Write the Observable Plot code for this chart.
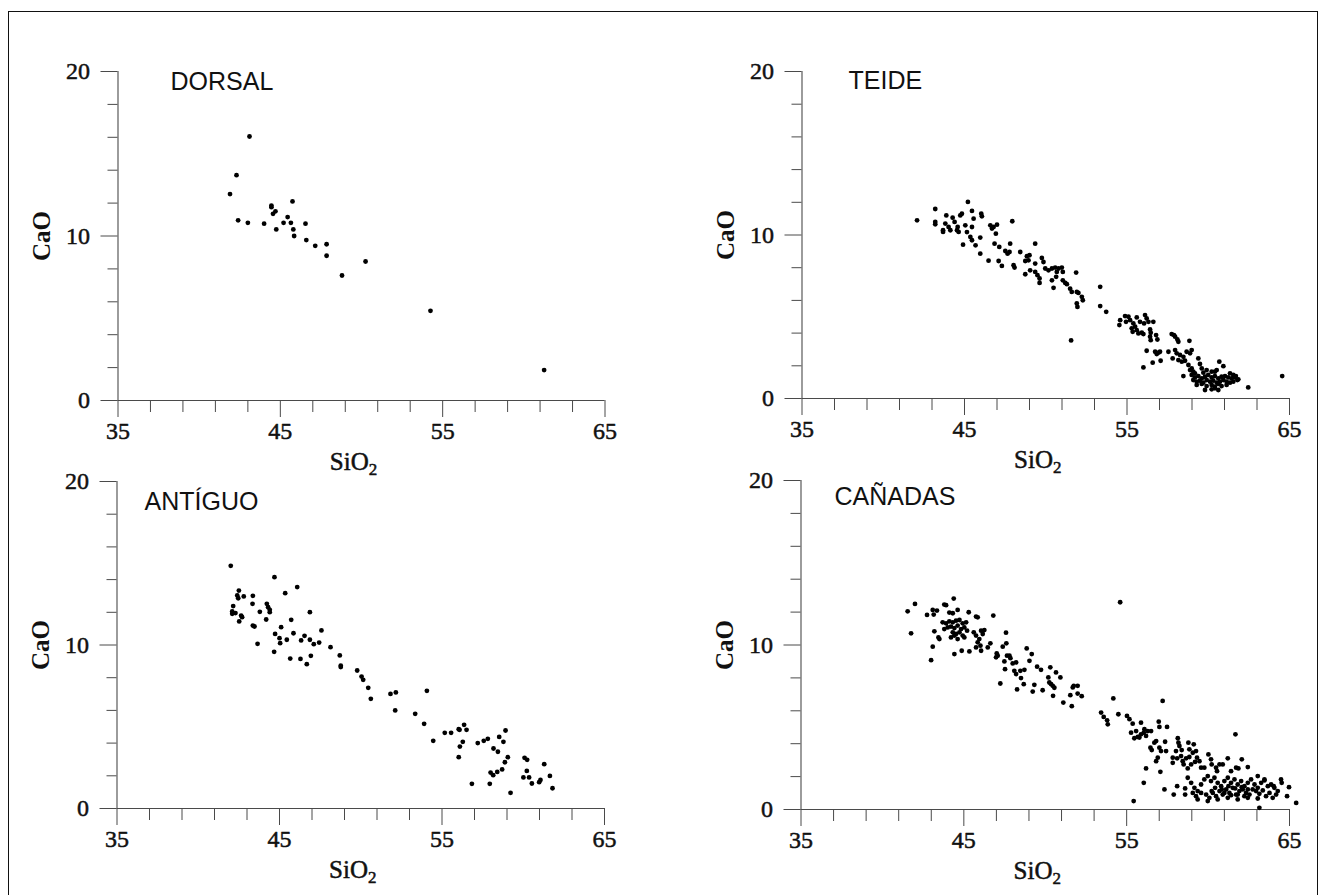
<!DOCTYPE html>
<html><head><meta charset="utf-8">
<script src="https://cdn.jsdelivr.net/npm/d3@7"></script>
<script src="https://cdn.jsdelivr.net/npm/@observablehq/plot@0.6"></script>
<style>
html,body{margin:0;padding:0;background:#fff;}
#page{position:relative;width:1319px;height:895px;overflow:hidden;background:#fff;}
#border{position:absolute;left:8px;top:11px;width:1310px;height:900px;border:1.5px solid #111;box-sizing:border-box;}
.panel{position:absolute;}
</style></head><body><div id="page"><div id="border"></div></div>
<script>
// Axis definitions
const xDomain = [35, 65];
const yDomain = [0, 20];
const xMajor = [35, 45, 55, 65];
const xMinor = [37, 39, 41, 43, 47, 49, 51, 53, 57, 59, 61, 63];
const yMajor = [0, 10, 20];
const yMinor = [2, 4, 6, 8, 12, 14, 16, 18];
const titles = ["DORSAL", "TEIDE", "ANTÍGUO", "CAÑADAS"];
const xLabel = "SiO2";
const yLabel = "CaO";

// [SiO2, CaO]
const dorsal = [[43.1,16.05],[42.3,13.7],[41.9,12.55],[42.4,10.95],[43.0,10.8],[44.0,10.75],[44.45,11.85],[44.45,11.75],[44.7,11.5],[44.55,11.35],[44.75,10.4],[45.2,10.8],[45.45,11.15],[45.65,10.8],[45.75,12.1],[45.8,10.4],[45.85,10.0],[46.55,10.75],[46.6,9.75],[47.15,9.4],[47.85,9.5],[47.85,8.8],[48.8,7.6],[50.25,8.45],[54.25,5.45],[61.25,1.85]];

const teide = [[42.08,10.9],[43.2,11.59],[43.2,10.8],[43.2,10.65],[43.88,11.2],[44.27,11.06],[43.82,10.7],[43.68,10.29],[43.68,10.19],[44.02,10.49],[44.13,10.29],[44.39,10.8],[44.54,10.29],[44.64,10.19],[44.58,10.49],[44.74,11.2],[44.84,11.3],[45.21,12.02],[45.46,11.47],[45.05,10.59],[45.56,11.0],[45.46,10.49],[46.03,11.3],[46.07,11.14],[45.15,10.18],[45.36,9.88],[45.46,9.68],[44.91,9.41],[45.97,9.84],[45.68,9.37],[45.97,8.86],[46.59,10.59],[46.69,10.39],[47.0,10.63],[46.79,10.49],[46.93,10.08],[46.85,9.47],[47.94,10.84],[47.14,9.27],[47.81,9.47],[47.51,9.02],[47.65,8.86],[47.77,8.96],[46.48,8.43],[47.1,8.41],[47.3,8.11],[48.02,8.15],[48.08,8.01],[48.43,8.96],[48.74,8.41],[48.84,8.7],[49.0,8.76],[48.94,8.45],[49.35,9.47],[49.04,7.84],[49.35,8.25],[49.76,8.6],[49.86,8.35],[48.74,7.6],[49.35,7.74],[49.49,7.54],[49.62,7.34],[49.62,7.07],[49.97,7.95],[50.17,7.84],[50.38,7.95],[50.58,8.01],[50.79,7.95],[50.99,8.01],[50.68,7.74],[51.05,7.74],[50.38,7.23],[50.64,7.44],[50.48,6.77],[51.05,7.23],[51.2,7.07],[51.3,6.99],[51.5,6.72],[51.6,6.52],[51.91,6.52],[52.01,6.46],[51.87,7.7],[52.22,6.22],[52.28,6.01],[51.91,5.81],[51.95,5.6],[53.35,6.83],[53.35,5.65],[53.72,5.3],[51.56,3.55],
[54.58,4.79],[54.53,4.49],[54.88,5.04],[55.09,5.0],[55.19,4.79],[54.94,4.69],[55.39,4.59],[55.5,4.39],[55.29,4.29],[55.6,4.18],[55.35,4.08],[55.7,3.98],[55.91,4.02],[56.01,3.94],[55.6,4.96],[55.8,4.69],[56.11,5.1],[56.21,4.9],[56.32,4.69],[56.05,4.59],[56.62,4.69],[56.42,4.22],[56.46,4.02],[56.42,3.78],[56.46,3.57],[56.79,3.88],[56.87,3.61],[56.21,2.92],[56.01,1.9],[56.58,2.19],[56.73,2.86],[56.93,2.8],[57.03,2.86],[56.83,2.72],[57.07,2.31],[57.55,2.86],[57.75,3.94],[57.96,3.78],[58.1,3.61],[58.16,3.47],[57.89,3.88],[57.81,2.45],[57.96,2.96],[58.06,2.76],[58.26,2.66],[58.47,2.55],[58.67,2.86],[58.88,2.76],[58.98,2.96],[58.16,2.35],[58.37,2.25],[58.57,2.31],[58.84,3.53],[58.78,2.05],[58.98,1.84],[59.08,1.64],[59.18,1.54],[59.39,2.45],[59.49,2.11],[59.6,1.84],[58.47,1.37],[58.88,1.74],
[58.98,1.44],[59.18,1.29],[59.39,1.37],[59.6,1.23],[59.8,1.33],[60.0,1.44],[60.21,1.29],[60.41,1.37],[60.62,1.23],[60.82,1.33],[61.03,1.37],[61.23,1.29],[61.44,1.23],[61.64,1.29],[61.85,1.17],[59.08,1.13],[59.29,1.03],[59.49,1.09],[59.7,0.97],[59.9,1.13],[60.11,1.03],[60.31,1.09],[60.52,0.97],[60.72,1.03],[60.93,1.13],[61.13,1.03],[61.34,0.97],[61.54,1.03],[59.29,0.83],[59.6,0.89],[59.9,0.76],[60.21,0.83],[60.41,0.72],[60.62,0.89],[60.82,0.76],[61.13,0.83],[59.8,0.52],[60.21,0.56],[60.41,0.62],[60.62,0.52],[60.68,2.25],[60.93,1.98],[60.41,1.64],[60.52,1.74],[60.21,1.64],[59.9,1.74],[59.7,1.58],[61.34,1.54],[61.54,1.44],[61.7,1.37],[61.79,1.13],[62.46,0.68],[64.55,1.37]];

const antiguo = [[42.0,14.84],[44.69,14.15],[46.09,13.54],[45.35,13.17],[42.5,13.33],[42.4,13.03],[42.46,12.86],[42.8,12.97],[43.36,13.01],[43.34,12.52],[44.22,12.52],[44.3,12.31],[44.4,12.15],[44.4,12.01],[43.79,12.03],[42.15,12.38],[42.09,12.05],[42.09,11.91],[42.29,11.95],[42.64,11.8],[42.7,11.7],[42.52,11.44],[44.18,11.56],[43.36,11.19],[43.46,11.13],[43.65,10.07],[45.72,11.54],[46.87,12.01],[45.1,11.09],[44.73,10.68],[45.0,10.42],[45.04,10.11],[44.67,9.58],[45.45,10.32],[45.86,10.72],[46.33,10.28],[46.54,10.56],[46.87,10.32],[47.11,10.05],[47.44,10.15],[47.58,10.89],[45.66,9.17],[46.29,9.15],[46.93,9.34],[46.68,8.83],[48.14,9.87],[48.71,9.36],[48.77,8.73],[48.77,8.65],[49.78,8.44],[50.05,8.07],[50.15,7.87],[50.46,7.38],[50.62,6.71],[51.83,7.01],[52.16,7.1],[52.12,6.0],[54.07,7.2],[53.35,5.79],[53.9,5.18],[54.46,4.14],[55.17,4.63],[55.56,4.63],[56.03,4.85],[56.08,4.81],[56.36,5.12],[56.51,4.81],[56.28,4.08],[56.1,3.79],[56.03,3.14],[57.2,4.0],[57.57,4.14],[57.82,4.26],[58.17,3.67],[58.44,3.47],[58.52,4.38],[58.78,4.08],[58.91,4.77],[59.05,3.14],[58.87,2.83],[58.7,2.39],[58.4,2.24],[57.99,2.2],[58.15,2.04],[57.94,1.51],[56.84,1.51],[59.22,0.96],[60.08,3.1],[60.24,2.98],[60.22,2.3],[60.01,1.9],[60.36,1.9],[60.53,1.53],[60.98,1.61],[61.06,1.75],[61.29,2.71],[61.64,1.99],[61.8,1.24]];

const canadas = [[41.55,12.05],[42.0,12.5],[41.76,10.71],[42.74,11.83],[43.09,12.13],[43.15,11.85],[43.35,12.09],[43.8,12.46],[43.91,12.42],[44.38,12.82],[44.11,11.97],[44.32,11.93],[44.62,12.13],[45.3,11.99],[45.75,11.73],[45.85,11.68],[46.81,11.79],
[43.7,11.38],[43.91,11.32],[44.11,11.44],[44.32,11.38],[44.52,11.48],[44.73,11.52],[44.93,11.32],[45.14,11.38],[43.8,10.97],[44.01,11.07],[44.21,11.12],[44.42,11.03],[44.62,11.18],[44.83,10.97],[45.03,11.07],[45.2,10.87],[44.32,10.77],[44.52,10.67],[44.73,10.77],[44.93,10.57],[44.21,10.46],[44.42,10.57],[44.62,10.36],[45.03,10.46],[43.19,10.83],[43.5,10.36],[43.44,10.46],[43.09,9.9],[42.99,9.08],[44.42,9.45],[44.87,9.65],[45.34,9.61],[45.61,10.77],[45.75,10.57],[45.95,10.36],[46.06,10.87],[46.16,10.67],[46.26,10.91],[45.85,10.16],[46.02,9.96],[46.06,9.65],[45.75,9.85],[46.47,9.85],[46.63,10.1],[47.02,9.49],[47.08,9.35],[46.98,9.25],[47.39,9.9],[47.61,10.1],[47.59,10.75],[47.49,9.0],[47.65,9.35],[47.8,9.35],[47.86,9.2],[47.53,8.53],[48.0,8.88],[48.21,8.94],[48.1,8.43],[48.21,8.23],[48.47,8.43],[48.72,8.49],[47.24,7.66],[48.51,7.99],[48.68,7.62],[48.27,7.3],[48.86,9.79],[49.17,9.45],[49.03,9.04],[49.5,8.68],[49.74,8.49],[49.33,7.58],[49.23,7.17],[49.84,7.25],[50.19,8.03],[50.31,8.64],[50.25,7.72],[50.36,7.62],[50.46,7.52],[50.56,7.4],[50.66,8.33],[50.93,8.03],[50.48,6.91],[51.11,6.5],[51.63,6.28],[51.54,6.95],[51.69,7.42],[51.75,7.52],[51.99,7.52],[51.99,7.05],[52.24,6.89],
[54.6,12.6],
[53.43,5.89],[53.59,5.63],[53.8,5.42],[53.84,5.18],[54.18,6.75],[54.49,5.79],[57.21,6.6],[55.02,5.69],[55.17,5.49],[55.37,5.22],[55.27,4.67],[55.47,4.33],[55.68,4.41],[55.88,4.57],[56.09,4.88],[55.88,5.28],[55.58,4.77],[55.78,4.37],[56.05,4.67],[56.19,4.47],[56.29,4.77],[56.5,4.77],[56.81,4.16],[56.7,4.06],[56.46,3.76],[56.54,3.61],[57.01,3.76],[57.11,3.55],[56.91,3.15],[56.81,2.94],[57.42,3.55],[57.36,4.12],[56.97,5.34],[57.01,5.02],[57.48,5.02],[58.14,4.33],[58.18,4.06],[58.24,3.86],[58.03,3.55],[57.83,3.15],[57.83,2.84],[58.1,3.11],[58.34,3.25],[58.38,3.61],[58.79,4.06],[59.12,3.96],[58.85,3.66],[59.06,3.45],[59.26,3.55],[59.32,3.15],[58.96,2.74],[58.75,2.5],[58.5,2.74],[58.44,2.94],[58.65,3.11],[58.85,3.19],[59.2,2.9],[59.57,2.54],[59.77,2.54],[59.47,2.94],[56.19,2.5],[56.05,1.62],[57.07,2.29],[55.43,0.51],[57.32,1.22],[57.89,0.91],[58.1,1.42],[58.59,1.28],[58.59,0.91],[60.02,3.35],[60.18,3.05],[60.22,2.74],[60.49,2.54],[60.55,2.33],[60.7,2.74],[60.9,2.74],[61.21,3.11],[61.41,2.33],[61.72,2.54],[61.86,2.5],[62.07,3.05],[62.44,2.58],[61.68,4.57],
[58.75,1.93],[58.96,1.62],[59.16,1.32],[59.36,1.12],[59.57,1.52],[59.77,1.83],[59.98,2.03],[60.18,1.73],[60.39,1.93],[60.59,1.62],[60.8,1.42],[61.0,1.73],[61.21,1.93],[61.41,1.62],[61.62,1.83],[61.82,1.52],[62.03,1.73],[62.23,1.42],[62.44,1.62],[62.64,1.83],[62.85,1.52],[63.05,1.32],[63.26,1.62],[63.46,1.77],[63.67,1.42],[63.87,1.52],[64.07,1.32],
[59.06,1.01],[59.26,0.81],[59.57,1.01],[59.88,0.91],[60.08,0.71],[60.29,1.01],[60.49,0.81],[60.7,1.12],[60.9,0.91],[61.11,1.22],[61.31,1.01],[61.51,1.32],[61.72,0.91],[61.92,1.12],[62.13,1.22],[62.33,1.01],[62.54,0.91],[62.74,1.22],[62.95,1.12],[63.15,0.95],[63.36,1.16],[63.56,0.81],[63.77,1.01],[63.97,0.71],[64.18,0.91],[64.28,1.12],
[59.36,0.61],[59.98,0.51],[60.59,0.61],[61.21,0.71],[61.82,0.61],[62.44,0.71],[63.05,0.67],
[63.05,2.03],[63.46,1.83],[64.03,1.42],[64.48,1.83],[64.52,1.62],[64.97,1.36],[64.85,0.81],[65.41,0.4],[63.15,0.1],[60.22,1.12],[60.43,1.32],[60.84,1.22],[61.25,1.42],[61.66,1.28],[62.07,1.36],[62.44,1.22],[61.0,1.01],[61.41,0.87],[61.82,0.91],[62.23,0.81]];

const axisColor = "#4a4a4a";
const ink = "#111";
const serif = "'Liberation Serif', 'Times New Roman', serif";

function panel(data, title, pos) {
  const chart = Plot.plot({
    width: pos.width, height: pos.height,
    marginLeft: pos.ml, marginRight: pos.mr, marginTop: pos.mt, marginBottom: pos.mb,
    style: {background: "transparent", fontFamily: serif, fontSize: "24px", color: ink, overflow: "visible"},
    x: {domain: xDomain},
    y: {domain: yDomain},
    marks: [
      Plot.ruleY([yDomain[0]], {x1: xDomain[0], x2: xDomain[1], stroke: axisColor, strokeWidth: 1.1}),
      Plot.ruleX([xDomain[0]], {y1: yDomain[0], y2: yDomain[1], stroke: axisColor, strokeWidth: 1.1}),
      Plot.axisX(xMajor, {anchor: "bottom", tickSize: 17, label: null, stroke: axisColor, fill: "none"}),
      Plot.axisX(xMinor, {anchor: "bottom", tickSize: 12, label: null, stroke: axisColor, fill: "none"}),
      Plot.axisY(yMajor, {anchor: "left", tickSize: 17, label: null, stroke: axisColor, fill: "none"}),
      Plot.axisY(yMinor, {anchor: "left", tickSize: 10, label: null, stroke: axisColor, fill: "none"}),
      // tick labels
      Plot.text(xMajor, {x: d => d, text: d => String(d), frameAnchor: "bottom", dy: 31, lineAnchor: "middle", textAnchor: "middle", fontSize: 24, fontFamily: serif, fill: ink, stroke: ink, strokeWidth: 0.5}),
      Plot.text(yMajor, {y: d => d, text: d => String(d), frameAnchor: "left", dx: -28, lineAnchor: "middle", textAnchor: "end", fontSize: 24, fontFamily: serif, fill: ink, stroke: ink, strokeWidth: 0.5}),
      Plot.dot(data, {x: d => d[0], y: d => d[1], r: 2.4, fill: "#000", stroke: null}),
      Plot.text([title], {text: d => d, frameAnchor: "top-left", dx: pos.tdx, dy: pos.tdy, lineAnchor: "top", textAnchor: "start",
        fontFamily: "'Liberation Sans', Arial, sans-serif", fontSize: 25, fill: ink}),
      Plot.text([xLabel], {text: d => d, frameAnchor: "bottom", textAnchor: "middle", dx: -8, dy: 61, lineAnchor: "middle", fontSize: 25, fontFamily: serif, fill: ink, stroke: ink, strokeWidth: 0.5}),
      Plot.text([yLabel], {text: d => d, frameAnchor: "left", textAnchor: "middle", dx: -76, rotate: -90, lineAnchor: "middle", fontSize: 25, fontFamily: serif, fontWeight: "bold", fill: ink})
    ]
  });
  // subscript in SiO2
  chart.querySelectorAll("text").forEach(t => {
    if (t.textContent === "SiO2") {
      t.textContent = "SiO";
      const s = document.createElementNS("http://www.w3.org/2000/svg", "tspan");
      s.setAttribute("dy", "0.3em");
      s.setAttribute("font-size", "0.68em");
      s.textContent = "2";
      t.appendChild(s);
    }
  });
  chart.classList.add("panel");
  chart.style.left = pos.left + "px";
  chart.style.top = pos.top + "px";
  chart.style.position = "absolute";
  document.getElementById("page").appendChild(chart);
}

panel(dorsal, titles[0], {left: 0, top: 0, width: 660, height: 478, ml: 117.5, mr: 55.5, mt: 71, mb: 78, tdx: 52.5, tdy: 1});
panel(teide, titles[1], {left: 660, top: 0, width: 659, height: 478, ml: 141.5, mr: 30, mt: 71, mb: 80, tdx: 46.5, tdy: 0});
panel(antiguo, titles[2], {left: 0, top: 440, width: 660, height: 455, ml: 116.5, mr: 56, mt: 41, mb: 87, tdx: 27.5, tdy: 11});
panel(canadas, titles[3], {left: 660, top: 440, width: 659, height: 455, ml: 140.5, mr: 30, mt: 40, mb: 86, tdx: 33.5, tdy: 7});
</script></body></html>
